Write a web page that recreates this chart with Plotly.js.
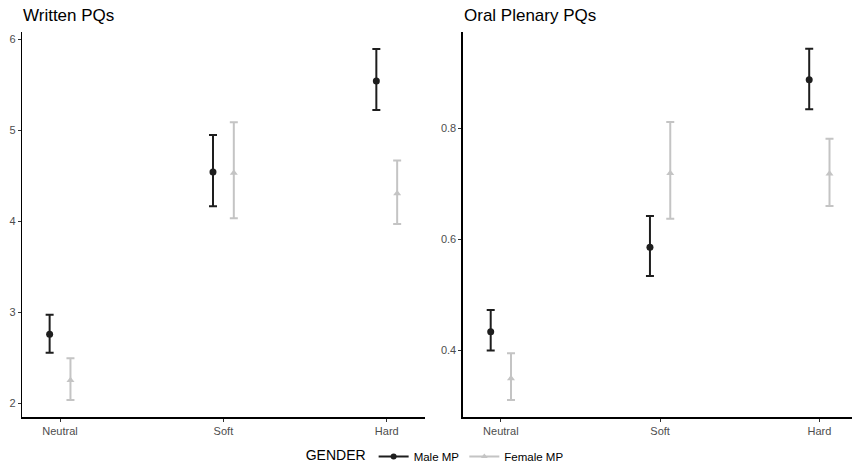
<!DOCTYPE html>
<html>
<head>
<meta charset="utf-8">
<script src="https://cdn.plot.ly/plotly-3.0.1.min.js"></script>
<style>html,body{margin:0;padding:0;background:#fff;}#chart{width:852px;height:471px;}</style>
</head>
<body>
<div id="chart"></div>
<script>
// Categories
const categories = ["Neutral", "Soft", "Hard"];
const groups = ["Male MP", "Female MP"];

// Written PQs
const writtenMaleMean  = [2.757, 4.541, 5.539];
const writtenMaleLow   = [2.555, 4.165, 5.221];
const writtenMaleHigh  = [2.973, 4.946, 5.890];
const writtenFemaleMean = [2.252, 4.530, 4.304];
const writtenFemaleLow  = [2.036, 4.033, 3.970];
const writtenFemaleHigh = [2.494, 5.087, 4.666];

// Oral Plenary PQs
const oralMaleMean  = [0.434, 0.586, 0.887];
const oralMaleLow   = [0.400, 0.534, 0.834];
const oralMaleHigh  = [0.473, 0.642, 0.943];
const oralFemaleMean = [0.350, 0.719, 0.718];
const oralFemaleLow  = [0.311, 0.637, 0.660];
const oralFemaleHigh = [0.395, 0.811, 0.781];

// Tick values
const writtenTicks = [2, 3, 4, 5, 6];
const oralTicks = [0.4, 0.6, 0.8];

const maleColor = "#1e1e1e";
const femaleColor = "#c4c4c4";

function diff(a, b) { return a.map((v, i) => v - b[i]); }

function trace(mean, low, high, xa, ya, color, symbol, name, group) {
  return {
    type: "scatter", mode: "markers",
    x: categories, y: mean, xaxis: xa, yaxis: ya,
    name: name, offsetgroup: group, showlegend: false,
    marker: {color: color, symbol: symbol, size: 7},
    error_y: {type: "data", symmetric: false,
      array: diff(high, mean), arrayminus: diff(mean, low),
      color: color, thickness: 2, width: 4},
    hoverinfo: "x+y"
  };
}

const data = [
  trace(writtenMaleMean, writtenMaleLow, writtenMaleHigh, "x", "y", maleColor, "circle", groups[0], "m"),
  trace(writtenFemaleMean, writtenFemaleLow, writtenFemaleHigh, "x", "y", femaleColor, "triangle-up", groups[1], "f"),
  trace(oralMaleMean, oralMaleLow, oralMaleHigh, "x2", "y2", maleColor, "circle", groups[0], "m"),
  trace(oralFemaleMean, oralFemaleLow, oralFemaleHigh, "x2", "y2", femaleColor, "triangle-up", groups[1], "f"),
  // legend entries
  {type: "scatter", mode: "lines+markers", x: [null], y: [null], name: groups[0],
   line: {color: maleColor, width: 2}, marker: {color: maleColor, symbol: "circle", size: 6}, showlegend: true},
  {type: "scatter", mode: "lines+markers", x: [null], y: [null], name: groups[1],
   line: {color: femaleColor, width: 2}, marker: {color: femaleColor, symbol: "triangle-up", size: 6}, showlegend: true}
];

const tickFont = {family: "Liberation Sans, Arial, sans-serif", size: 11, color: "#4d4d4d"};
const axisCommon = {
  showline: true, linecolor: "#000", linewidth: 1.2,
  ticks: "outside", ticklen: 3, tickcolor: "#333", tickwidth: 1,
  showgrid: false, zeroline: false, tickfont: tickFont, fixedrange: true
};

const layout = {
  width: 852, height: 471,
  margin: {l: 0, r: 0, t: 0, b: 0},
  paper_bgcolor: "#fff", plot_bgcolor: "#fff",
  font: {family: "Liberation Sans, Arial, sans-serif"},
  scattermode: "group", scattergap: 0.745,
  showlegend: true,
  legend: {
    orientation: "h", x: 0.512, xanchor: "center", y: 0.0, yanchor: "bottom",
    title: {text: "GENDER", font: {size: 14, color: "#000"}, side: "left"},
    font: {size: 11.5, color: "#000"}, itemwidth: 30, tracegroupgap: 0
  },
  xaxis: Object.assign({}, axisCommon, {domain: [0.0258, 0.4988], type: "category",
    categoryorder: "array", categoryarray: categories, range: [-0.233, 2.234], anchor: "y"}),
  yaxis: Object.assign({}, axisCommon, {domain: [0.114, 0.932], range: [1.846, 6.077],
    tickmode: "array", tickvals: writtenTicks, ticktext: writtenTicks.map(String), anchor: "x"}),
  xaxis2: Object.assign({}, axisCommon, {domain: [0.543, 1.0], type: "category",
    categoryorder: "array", categoryarray: categories, range: [-0.24, 2.205], anchor: "y2"}),
  yaxis2: Object.assign({}, axisCommon, {domain: [0.114, 0.932], range: [0.280, 0.973],
    tickmode: "array", tickvals: oralTicks, ticktext: oralTicks.map(v => v.toFixed(1)), anchor: "x2"}),
  annotations: [
    {text: "Written PQs", xref: "paper", yref: "paper", x: 21 / 852, y: 1 - 4 / 471,
     xanchor: "left", yanchor: "top", showarrow: false, font: {size: 17, color: "#000"}},
    {text: "Oral Plenary PQs", xref: "paper", yref: "paper", x: 462 / 852, y: 1 - 4 / 471,
     xanchor: "left", yanchor: "top", showarrow: false, font: {size: 17, color: "#000"}}
  ]
};

Plotly.newPlot("chart", data, layout, {displayModeBar: false, staticPlot: true});
</script>
</body>
</html>
